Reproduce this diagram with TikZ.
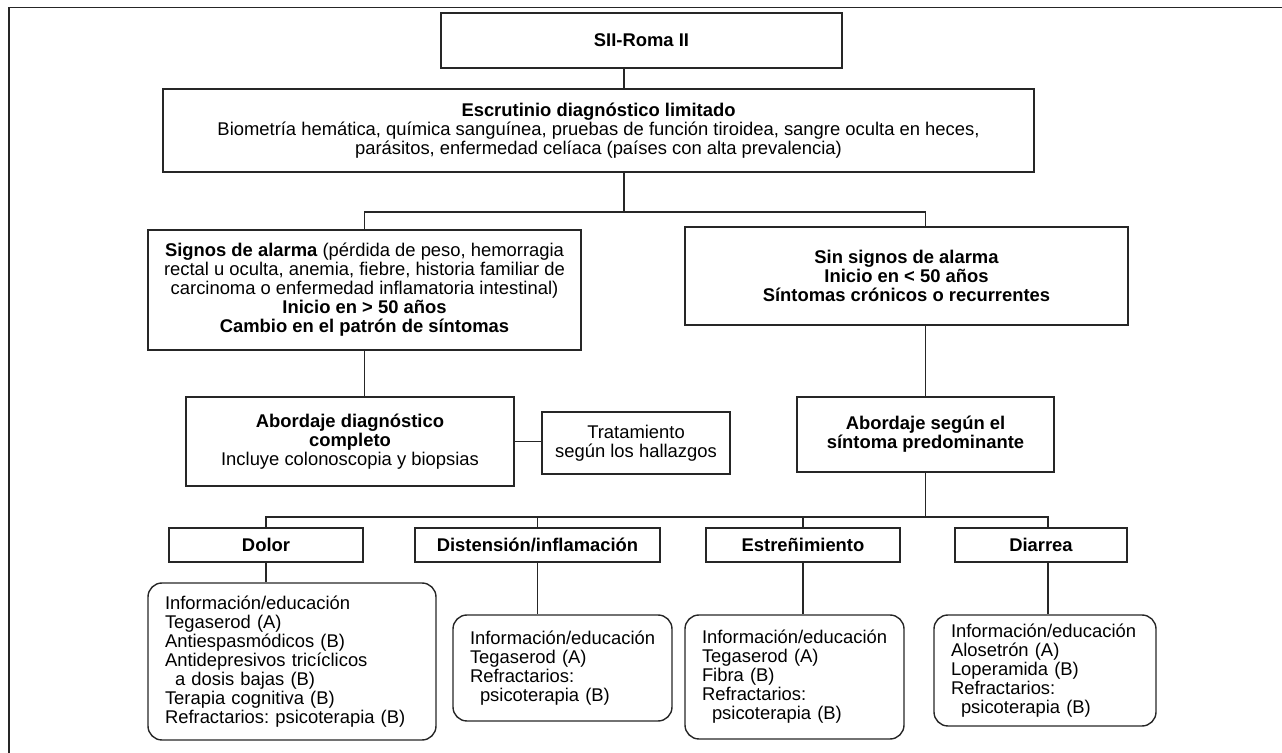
\documentclass[tikz,border=0pt]{standalone}
\usepackage{fontspec}
\setmainfont{Liberation Sans}
\usepackage{tikz}
\setlength{\lineskiplimit}{-20pt}
\frenchspacing
\tikzset{
  box/.style={draw=black!85,line width=0.7pt,align=center,inner sep=0pt,
              font=\fontsize{9.2}{9.5}\selectfont},
  conn/.style={draw=black!85,line width=0.6pt}
}

\begin{document}
\begin{tikzpicture}[x=0.5pt,y=-0.5pt,
  tbox/.style={box,font=\fontsize{9.2}{9.5}\selectfont\bfseries,minimum height=17pt},
  list/.style={box,rounded corners=7pt,align=left,inner xsep=8.5pt}]
  \useasboundingbox (0,0) rectangle (1282,753);
  \draw[conn,line width=0.8pt] (1282,7.5) -- (9,7.5) -- (9,753);
  \node[box,font=\fontsize{9.2}{9.5}\selectfont\bfseries,minimum width=200.5pt,minimum height=27.5pt] (roma) at (641.5,40.5) {SII-Roma II};
  \node[box,minimum width=435.5pt,minimum height=41.5pt] (escr) at (598.5,130.5)
    {\textbf{Escrutinio diagnóstico limitado}\\
     Biometría hemática, química sanguínea, pruebas de función tiroidea, sangre oculta en heces,\\
     parásitos, enfermedad celíaca (países con alta prevalencia)};
  \node[box,minimum width=216.5pt,minimum height=60pt] (signos) at (364.5,290)
    {\textbf{Signos de alarma} (pérdida de peso, hemorragia\\
     rectal u oculta, anemia, fiebre, historia familiar de\\
     carcinoma o enfermedad inflamatoria intestinal)\\
     \textbf{Inicio en > 50 años}\\
     \textbf{Cambio en el patrón de síntomas}};
  \node[box,font=\fontsize{9.2}{9.5}\selectfont\bfseries,minimum width=221.5pt,minimum height=49pt] (sin) at (906.5,276)
    {Sin signos de alarma\\ Inicio en < 50 años\\ Síntomas crónicos o recurrentes};
  \node[box,minimum width=164pt,minimum height=44.5pt] (abcomp) at (350,441.5)
    {\textbf{Abordaje diagnóstico}\\ \textbf{completo}\\ Incluye colonoscopia y biopsias};
  \node[box,minimum width=94pt,minimum height=31pt] (trat) at (636,443)
    {Tratamiento\\ según los hallazgos};
  \node[box,font=\fontsize{9.2}{9.5}\selectfont\bfseries,minimum width=128.5pt,minimum height=37.5pt] (absegun) at (925.5,434.5)
    {Abordaje según el\\ síntoma predominante};
  % sintoma predominante
  \node[tbox,minimum width=97pt] (dolor) at (266,545) {Dolor};
  \node[tbox,minimum width=122.5pt] (dist) at (537.5,545) {Distensión/inflamación};
  \node[tbox,minimum width=97pt] (estr) at (803,545) {Estreñimiento};
  \node[tbox,minimum width=86pt] (diar) at (1041,545) {Diarrea};
  % tratamientos
  \node[list,text width=127pt,minimum height=78.5pt] (ldolor) at (292,661.5)
    {Información/educación\\ Tegaserod (A)\\ Antiespasmódicos (B)\\ Antidepresivos tricíclicos\\
     \hspace*{5pt}a dosis bajas (B)\\ Terapia cognitiva (B)\\ Refractarios: psicoterapia (B)};
  \node[list,text width=92.5pt,minimum height=53pt] (ldist) at (562.5,668)
    {Información/educación\\ Tegaserod (A)\\ Refractarios:\\ \hspace*{5pt}psicoterapia (B)};
  \node[list,text width=92.5pt,minimum height=62pt] (lestr) at (794.5,677)
    {Información/educación\\ Tegaserod (A)\\ Fibra (B)\\ Refractarios:\\ \hspace*{5pt}psicoterapia (B)};
  \node[list,text width=94pt,minimum height=55.5pt] (ldiar) at (1045,670.5)
    {Información/educación\\ Alosetrón (A)\\ Loperamida (B)\\ Refractarios:\\ \hspace*{5pt}psicoterapia (B)};
  % conectores
  \coordinate (j0) at (624,212);
  \coordinate (j1) at (925.5,517);
  \coordinate (j2) at (1048,517);
  \draw[conn] (j0 |- roma.south) -- (j0 |- escr.north);
  \draw[conn] (j0 |- escr.south) -- (j0);
  \draw[conn] (signos.north) |- (j0) -| (sin.north -| absegun.north);
  \draw[conn] (sin.south -| absegun.north) -- (absegun.north);
  \draw[conn] (signos.south) -- (signos.south |- abcomp.north);
  \draw[conn] (abcomp.east) -- (abcomp.east -| trat.west);
  \draw[conn] (absegun.south) -- (j1);
  \draw[conn] (dolor.north) |- (j2) -- (j2 |- diar.north);
  \draw[conn] (dist.north) -- (dist.north |- j1);
  \draw[conn] (estr.north) -- (estr.north |- j1);
  \draw[conn] (dolor.south) -- (dolor.south |- ldolor.north);
  \draw[conn] (dist.south) -- (dist.south |- ldist.north);
  \draw[conn] (estr.south) -- (estr.south |- lestr.north);
  \draw[conn] (j2 |- diar.south) -- (j2 |- ldiar.north);
\end{tikzpicture}
\end{document}
